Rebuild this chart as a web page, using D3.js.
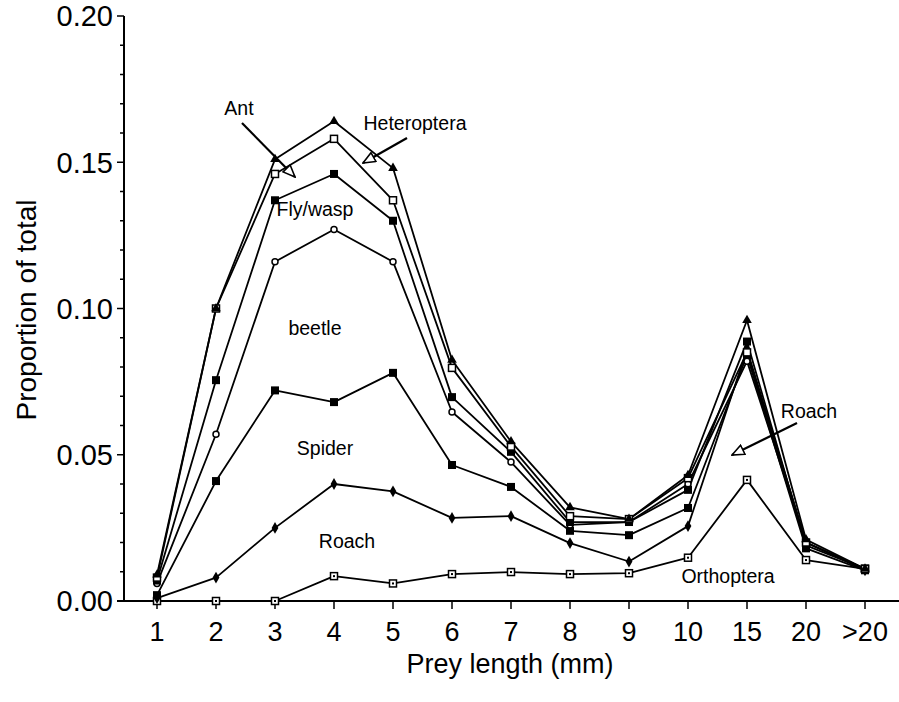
<!DOCTYPE html>
<html><head><meta charset="utf-8">
<script src="https://cdn.jsdelivr.net/npm/d3@7"></script>
<style>body{margin:0;background:#fff}svg{display:block}text{font-family:"Liberation Sans",Arial,sans-serif}</style>
</head><body><svg id="c" width="899" height="702"></svg>
<script>
const categories = ["1","2","3","4","5","6","7","8","9","10","15","20",">20"];
const ant        = [0.009,0.100,0.151,0.164,0.148,0.0824,0.0545,0.032,0.028,0.043,0.096,0.021,0.011];
const heteroptera= [0.008,0.100,0.146,0.158,0.137,0.0797,0.0528,0.029,0.028,0.042,0.085,0.020,0.011];
const flywasp    = [0.007,0.0755,0.137,0.146,0.130,0.0697,0.051,0.027,0.027,0.038,0.0887,0.019,0.011];
const beetle     = [0.006,0.057,0.116,0.127,0.116,0.0646,0.0475,0.026,0.027,0.040,0.082,0.020,0.011];
const spider     = [0.002,0.041,0.072,0.068,0.078,0.0465,0.039,0.024,0.0225,0.0318,0.084,0.018,0.0105];
const roach      = [0.001,0.008,0.025,0.040,0.0375,0.0284,0.029,0.0198,0.0135,0.0256,0.086,0.020,0.0105];
const orthoptera = [0,0,0,0.0085,0.006,0.0092,0.0099,0.0092,0.0095,0.0148,0.0414,0.014,0.011];
const yTicks = [0,0.05,0.10,0.15,0.20];

const series = [
  {name:"Orthoptera", v:orthoptera, m:"osqdot"},
  {name:"Roach", v:roach, m:"diamond"},
  {name:"Spider", v:spider, m:"fsq"},
  {name:"beetle", v:beetle, m:"circle"},
  {name:"Fly/wasp", v:flywasp, m:"fsq"},
  {name:"Heteroptera", v:heteroptera, m:"osq"},
  {name:"Ant", v:ant, m:"tri"}
];

const svg = d3.select("#c");
const x = d3.scalePoint().domain(categories).range([157,865]);
const y = d3.scaleLinear().domain([0,0.20]).range([601,16]);

// y axis
const gy = svg.append("g").attr("transform","translate(124,0)");
gy.append("line").attr("x1",0).attr("x2",0).attr("y1",y(0.2)).attr("y2",y(0)).attr("stroke","#000").attr("stroke-width",2);
gy.selectAll(".mt").data(d3.range(0,21).map(i=>i/100)).enter().append("line")
  .attr("x1",d=>Math.round(d*100)%5===0? -7 : -4).attr("x2",0)
  .attr("y1",d=>y(d)).attr("y2",d=>y(d)).attr("stroke","#000").attr("stroke-width",1.5);
gy.selectAll(".tl").data(yTicks).enter().append("text")
  .attr("x",-11).attr("y",d=>y(d)).attr("dy","0.36em").attr("text-anchor","end")
  .attr("font-size",29).text(d=>d3.format(".2f")(d));

// x axis
const gx = svg.append("g").attr("transform","translate(0,601)");
gx.append("line").attr("x1",117).attr("x2",899).attr("y1",0).attr("y2",0).attr("stroke","#000").attr("stroke-width",2);
gx.selectAll(".xt").data(categories).enter().append("line")
  .attr("x1",d=>x(d)).attr("x2",d=>x(d)).attr("y1",0).attr("y2",8).attr("stroke","#000").attr("stroke-width",1.5);
gx.selectAll(".xl").data(categories).enter().append("text")
  .attr("x",d=>x(d)).attr("y",40).attr("text-anchor","middle").attr("font-size",27).text(d=>d);

svg.append("text").attr("x",510).attr("y",673).attr("text-anchor","middle").attr("font-size",27).text("Prey length (mm)");
svg.append("text").attr("transform","translate(36,310) rotate(-90)").attr("text-anchor","middle").attr("font-size",28).text("Proportion of total");

// lines
const line = d3.line().x((d,i)=>x(categories[i])).y(d=>y(d));
series.forEach(s=>{
  svg.append("path").attr("d",line(s.v)).attr("fill","none").attr("stroke","#000").attr("stroke-width",1.8).attr("stroke-linejoin","round");
});
series.forEach(s=>{
  const g = svg.append("g");
  s.v.forEach((v,i)=>{
    const cx = x(categories[i]), cy = y(v);
    if(s.m==="tri") g.append("path").attr("d",d3.symbol(d3.symbolTriangle,40)()).attr("transform",`translate(${cx},${cy})`).attr("fill","#000");
    else if(s.m==="osq") g.append("rect").attr("x",cx-3.5).attr("y",cy-3.5).attr("width",7).attr("height",7).attr("fill","#fff").attr("stroke","#000").attr("stroke-width",1.5);
    else if(s.m==="fsq") g.append("rect").attr("x",cx-4).attr("y",cy-4).attr("width",8).attr("height",8).attr("fill","#000");
    else if(s.m==="circle") g.append("circle").attr("cx",cx).attr("cy",cy).attr("r",3).attr("fill","#fff").attr("stroke","#000").attr("stroke-width",1.5);
    else if(s.m==="diamond") g.append("path").attr("d",d3.symbol(d3.symbolDiamond,40)()).attr("transform",`translate(${cx},${cy})`).attr("fill","#000");
    else if(s.m==="osqdot"){ g.append("rect").attr("x",cx-3.5).attr("y",cy-3.5).attr("width",7).attr("height",7).attr("fill","#fff").attr("stroke","#000").attr("stroke-width",1.5);
      g.append("rect").attr("x",cx-1).attr("y",cy-1).attr("width",2).attr("height",2).attr("fill","#000"); }
  });
});

// labels
const labels = [
  {t:"Ant",x:239,y:115},{t:"Heteroptera",x:415,y:130},{t:"Fly/wasp",x:315,y:216},
  {t:"beetle",x:315,y:335},{t:"Spider",x:325,y:455},{t:"Roach",x:347,y:548},
  {t:"Orthoptera",x:728,y:583},{t:"Roach",x:809,y:418}
];
svg.selectAll(".lab").data(labels).enter().append("text").attr("x",d=>d.x).attr("y",d=>d.y)
  .attr("text-anchor","middle").attr("font-size",19.5).text(d=>d.t);

// arrows
svg.append("defs").append("marker").attr("id","ah").attr("viewBox","0 0 14 12").attr("refX",13).attr("refY",6)
  .attr("markerWidth",14).attr("markerHeight",12).attr("markerUnits","userSpaceOnUse").attr("orient","auto")
  .append("path").attr("d","M1,1 L13,6 L1,11 Z").attr("fill","#fff").attr("stroke","#000").attr("stroke-width",1.6);
const arrows = [[242,123,295,177],[407,138,363,163],[797,423,732,455]];
arrows.forEach(a=>svg.append("line").attr("x1",a[0]).attr("y1",a[1]).attr("x2",a[2]).attr("y2",a[3])
  .attr("stroke","#000").attr("stroke-width",2.2).attr("marker-end","url(#ah)"));
</script></body></html>
